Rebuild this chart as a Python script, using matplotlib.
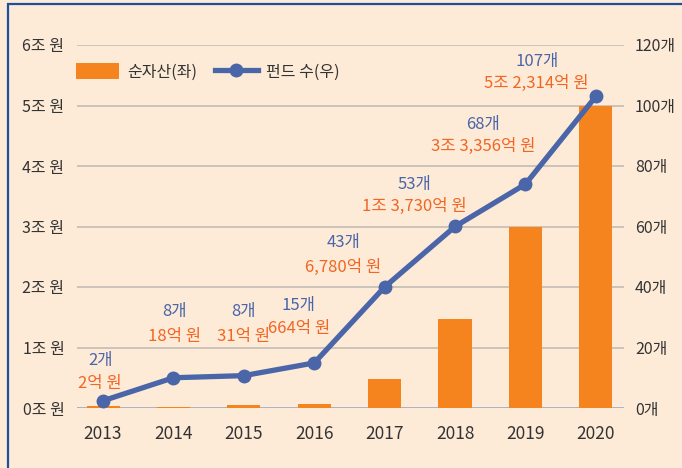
import matplotlib
matplotlib.use("Agg")
import matplotlib.pyplot as plt
from matplotlib.patches import Rectangle

plt.rcParams['font.family'] = ['Noto Sans CJK KR', 'DejaVu Sans']

# data
years = ['2013', '2014', '2015', '2016', '2017', '2018', '2019', '2020']
net_assets = [0.03, 0.015, 0.05, 0.07, 0.48, 1.47, 3.0, 5.0]  # 조 원 (as drawn)
fund_count = [2.4, 10.0, 10.7, 14.9, 40.0, 60.0, 74.0, 103.0]  # 개 (as drawn)
count_labels = ['2개', '8개', '8개', '15개', '43개', '53개', '68개', '107개']
asset_labels = ['2억 원', '18억 원', '31억 원', '664억 원', '6,780억 원',
                '1조 3,730억 원', '3조 3,356억 원', '5조 2,314억 원']
left_ticks = ['0조 원', '1조 원', '2조 원', '3조 원', '4조 원', '5조 원', '6조 원']
right_ticks = ['0개', '20개', '40개', '60개', '80개', '100개', '120개']

# label placement (x index, y in 조 for the count / amount lines)
label_x = [-0.04, 1.02, 1.99, 2.78, 3.41, 4.42, 5.40, 6.16]
label_y_count = [0.78, 1.59, 1.59, 1.70, 2.73, 3.70, 4.69, 5.72]
label_y_asset = [0.41, 1.19, 1.19, 1.32, 2.33, 3.34, 4.33, 5.36]

bg = '#fdebd8'
orange = '#f5841f'
blue = '#4a65a8'
text_orange = '#f26522'
dark = '#333333'

fig = plt.figure(figsize=(6.82, 4.68), dpi=100)
fig.patch.set_facecolor(bg)
ax = fig.add_axes([77 / 682, 60 / 468, 547 / 682, 363 / 468])
ax.set_facecolor('none')
ax2 = ax.twinx()

x = list(range(len(years)))

# Bars for net assets
bars = ax.bar(x, net_assets, width=0.47, color=orange, zorder=2, label='순자산(좌)')

# gridlines
for i in range(1, 7):
    ax.axhline(i, color='#c3bdb6', lw=1.2, zorder=1)
ax.axhline(0, color='#a9b2c6', lw=1.4, zorder=1)

ax.set_xlim(-0.37, 7.4)
ax.set_ylim(0, 6)
ax.set_yticks(range(7))
ax.set_yticklabels(left_ticks)
ax.set_xticks(x)
ax.set_xticklabels(years)
ax.tick_params(axis='y', length=0, pad=9, labelsize=11.5, labelcolor=dark)
ax.tick_params(axis='x', length=0, pad=12, labelsize=12.5, labelcolor=dark)
for s in ax.spines.values():
    s.set_visible(False)

# Line for number of funds
line, = ax2.plot(x, fund_count, color=blue, lw=3.8, marker='o', markersize=9,
                 zorder=3, label='펀드 수(우)')
ax2.set_ylim(0, 120)
ax2.set_yticks(range(0, 121, 20))
ax2.set_yticklabels(right_ticks)
ax2.tick_params(axis='y', length=0, pad=8, labelsize=11.5, labelcolor=dark)
for s in ax2.spines.values():
    s.set_visible(False)

# value labels
for i in range(len(years)):
    ax2.text(label_x[i], label_y_count[i] * 20, count_labels[i], color=blue,
             fontsize=12, ha='center', va='center')
    ax2.text(label_x[i], label_y_asset[i] * 20, asset_labels[i], color=text_orange,
             fontsize=12, ha='center', va='center')

leg = ax2.legend([bars, line], ['순자산(좌)', '펀드 수(우)'], ncol=2, frameon=False,
                 loc='upper left', bbox_to_anchor=(-0.028, 0.99), fontsize=11.5,
                 handlelength=2.7, handleheight=1.2, columnspacing=1.1,
                 handletextpad=0.5)
for t in leg.get_texts():
    t.set_color(dark)

# blue frame round the card
fig.patches.append(Rectangle((8 / 682, -0.05), 1.0, 1.05 - 4 / 468,
                             transform=fig.transFigure, fill=False,
                             edgecolor='#1f4e9c', lw=1.6))

fig.savefig('out.png', dpi=100, facecolor=bg)
